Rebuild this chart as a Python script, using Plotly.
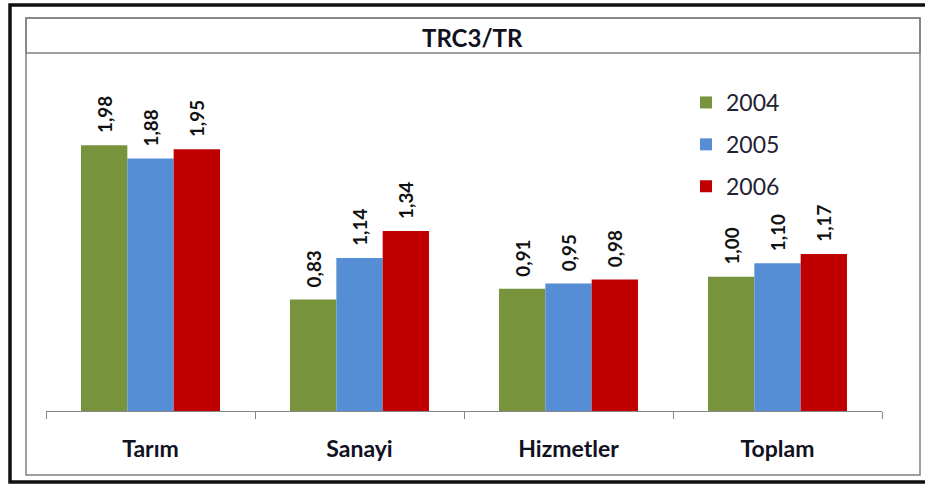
import plotly.graph_objects as go

categories = ["Tarım", "Sanayi", "Hizmetler", "Toplam"]
years = ["2004", "2005", "2006"]
values_2004 = [1.98, 0.83, 0.91, 1.00]
values_2005 = [1.88, 1.14, 0.95, 1.10]
values_2006 = [1.95, 1.34, 0.98, 1.17]
colors = ["#77933C", "#558ED5", "#C00000"]
title_text = "TRC3/TR"

W, H = 925, 486
L, R, T, B = 46, 882, 70, 411  # plot area pixel bounds

def px(x):
    return (x - L) / (R - L)

def py(y):
    return (B - y) / (B - T)

FONT = "Lato, Carlito, Arial, sans-serif"
NB = "\u00a0"

fig = go.Figure()
for name, vals, col in zip(years, [values_2004, values_2005, values_2006], colors):
    fig.add_trace(go.Bar(
        x=categories, y=vals, name=name, legendgroup=name,
        marker=dict(color=col, line=dict(width=0)),
        text=[NB + NB + f"{v:.2f}".replace(".", ",") for v in vals],
        textposition="outside", textangle=-90,
        textfont=dict(family=FONT, size=19, color="#111111", weight="bold"),
        cliponaxis=False,
    ))

shapes = [
    # outer black frame
    dict(type="rect", xref="paper", yref="paper", x0=px(10), x1=px(940), y0=py(482), y1=py(5),
         line=dict(color="#111111", width=3.5), layer="below"),
    # inner panel
    dict(type="rect", xref="paper", yref="paper", x0=px(26), x1=px(920), y0=py(475), y1=py(18),
         line=dict(color="#808080", width=1.5), layer="below"),
    # title box
    dict(type="rect", xref="paper", yref="paper", x0=px(26), x1=px(920), y0=py(53), y1=py(18),
         line=dict(color="#808080", width=1.5), layer="below"),
]

fig.update_layout(
    width=W, height=H,
    margin=dict(l=L, r=W - R, t=T, b=H - B, pad=0),
    paper_bgcolor="white", plot_bgcolor="white",
    barmode="group", bargap=0.335, bargroupgap=0,
    showlegend=True,
    legend=dict(
        x=px(686), y=py(81), xanchor="left", yanchor="top",
        font=dict(family=FONT, size=23, color="#222233"),
        traceorder="grouped", tracegroupgap=9,
        bgcolor="rgba(0,0,0,0)", itemwidth=30,
    ),
    xaxis=dict(
        showline=True, linecolor="#868686", linewidth=1.2,
        ticks="outside", tickson="boundaries", ticklen=7, tickcolor="#868686",
        tickfont=dict(family=FONT, size=23, color="#111122", weight="bold"),
        ticklabelstandoff=17, showgrid=False, fixedrange=True,
    ),
    yaxis=dict(visible=False, range=[0, 2.54], showgrid=False, zeroline=False, fixedrange=True),
    shapes=shapes,
    annotations=[dict(
        text=title_text, xref="paper", yref="paper", x=px(472), y=py(37),
        xanchor="center", yanchor="middle", showarrow=False,
        font=dict(family=FONT, size=24, color="#111122", weight="bold"),
    )],
)

fig.write_html("out.html", config={"displayModeBar": False},
               post_script="document.body.style.margin='0';")
